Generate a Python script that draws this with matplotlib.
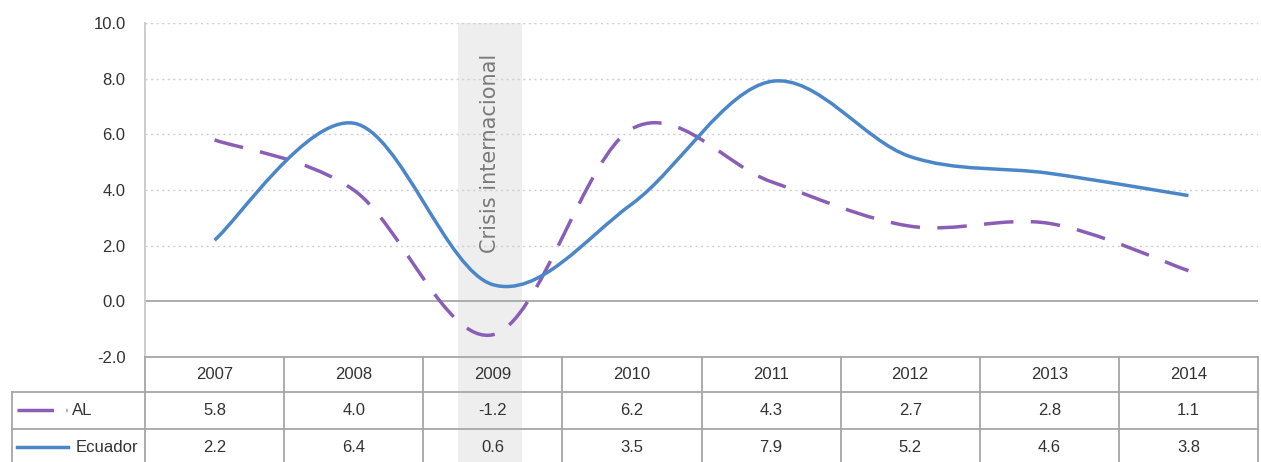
import numpy as np
import matplotlib.pyplot as plt
from matplotlib.path import Path
from matplotlib.patches import PathPatch

plt.rcParams['font.family'] = ['Liberation Sans', 'DejaVu Sans']

years = ['2007', '2008', '2009', '2010', '2011', '2012', '2013', '2014']
al = [5.8, 4.0, -1.2, 6.2, 4.3, 2.7, 2.8, 1.1]
ecuador = [2.2, 6.4, 0.6, 3.5, 7.9, 5.2, 4.6, 3.8]
crisis_year = '2009'
yticks = [-2.0, 0.0, 2.0, 4.0, 6.0, 8.0, 10.0]

c_al = '#8A5DB6'
c_ec = '#4A86C8'
grey_txt = '#333333'
line_grey = '#A6A6A6'

W, H = 1261, 462


def smooth_path(xs, ys):
    # excel-like smoothed line: cubic bezier through the points
    pts = np.column_stack([xs, ys]).astype(float)
    n = len(pts)
    verts = [pts[0]]
    codes = [Path.MOVETO]
    for i in range(n - 1):
        p0 = pts[i - 1] if i > 0 else pts[i]
        p1 = pts[i]
        p2 = pts[i + 1]
        p3 = pts[i + 2] if i + 2 < n else pts[i + 1]
        c1 = p1 + (p2 - p0) / 6.0
        c2 = p2 - (p3 - p1) / 6.0
        verts += [c1, c2, p2]
        codes += [Path.CURVE4] * 3
    return Path(verts, codes)


fig = plt.figure(figsize=(W / 100, H / 100), dpi=100)

# main plot area
x0, x1 = 145, 1258
ytop, ybot = 23, 357
ax = fig.add_axes([x0 / W, (H - ybot) / H, (x1 - x0) / W, (ybot - ytop) / H])
x = np.arange(len(years))
ax.set_xlim(-0.5, len(years) - 0.5)
ax.set_ylim(-2, 10)

ci = years.index(crisis_year)
ax.axvspan(ci - 0.25, ci + 0.21, color='#EEEEEE', zorder=0, lw=0)

for v in yticks[2:]:
    ax.axhline(v, color='#CFCFCF', lw=1, ls=(0, (1.5, 2.5)), zorder=1)
ax.axhline(0, color=line_grey, lw=1.3, zorder=1)

ax.add_patch(PathPatch(smooth_path(x, al), facecolor='none', edgecolor=c_al,
                       lw=2.5, ls=(0, (8.5, 5)), zorder=3))
ax.add_patch(PathPatch(smooth_path(x, ecuador), facecolor='none', edgecolor=c_ec,
                       lw=2.5, zorder=4))

ax.text(ci - 0.02, 8.9, 'Crisis internacional', rotation=90, ha='center', va='top',
        color='#7A7A7A', fontsize=15, family=['DejaVu Sans'])

ax.set_yticks(yticks)
ax.set_yticklabels([f'{v:.1f}' for v in yticks], fontsize=12, color=grey_txt)
ax.tick_params(axis='y', length=0, pad=14)
ax.set_xticks([])
for s in ['top', 'right', 'bottom']:
    ax.spines[s].set_visible(False)
ax.spines['left'].set_color('#C8C8C8')
ax.spines['left'].set_linewidth(1.3)

# data table below
lx = 12
left_x = -0.5 - (x0 - lx) / 139.0
tab = fig.add_axes([lx / W, 0, (x1 - lx) / W, (H - ybot) / H])
tab.set_xlim(left_x, len(years) - 0.5)
tab.set_ylim(H, ybot)
tab.axis('off')
tab.axvspan(ci - 0.25, ci + 0.21, color='#EEEEEE', zorder=0, lw=0)

r1, r2 = 392, 429
kw = dict(color=line_grey, lw=1.3, zorder=2, clip_on=False)
tab.plot([-0.5, len(years) - 0.5], [ybot, ybot], **kw)
tab.plot([left_x, len(years) - 0.5], [r1, r1], **kw)
tab.plot([left_x, len(years) - 0.5], [r2, r2], **kw)
for k in range(len(years) + 1):
    tab.plot([k - 0.5, k - 0.5], [ybot, H], **kw)
tab.plot([left_x, left_x], [r1, H], **kw)

fs = 12
for i, yr in enumerate(years):
    tab.text(i, (ybot + r1) / 2, yr, ha='center', va='center', fontsize=fs, color=grey_txt)
    tab.text(i, (r1 + r2) / 2, f'{al[i]:.1f}', ha='center', va='center', fontsize=fs, color=grey_txt)
    tab.text(i, (r2 + H) / 2 + 2, f'{ecuador[i]:.1f}', ha='center', va='center', fontsize=fs, color=grey_txt)

# legend keys in row labels
u = 1 / 139.0
tab.plot([left_x + 5 * u, left_x + 55 * u], [(r1 + r2) / 2] * 2, color=c_al, lw=2.5,
         ls=(0, (10.5, 3.6)), clip_on=False)
tab.text(left_x + 60 * u, (r1 + r2) / 2, 'AL', ha='left', va='center', fontsize=fs, color=grey_txt)
tab.plot([left_x + 5 * u, left_x + 56 * u], [(r2 + H) / 2 + 2] * 2, color=c_ec, lw=2.5,
         clip_on=False)
tab.text(left_x + 126 * u, (r2 + H) / 2 + 2, 'Ecuador', ha='right', va='center', fontsize=fs,
         color=grey_txt)

fig.savefig('out.png', dpi=100)
